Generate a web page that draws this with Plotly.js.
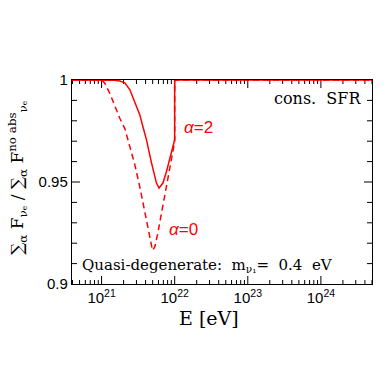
<!DOCTYPE html>
<html>
<head>
<meta charset="utf-8">
<script src="https://cdn.plot.ly/plotly-3.0.1.min.js"></script>
<style>html,body{margin:0;padding:0;background:#fff;}#chart{width:392px;height:392px;}</style>
</head>
<body>
<div id="chart"></div>
<script>
// Energy (eV) and flux ratio for alpha = 2 (solid)
const energyAlpha2 = [3.9e20, 1.04e21, 1.51e21, 1.78e21, 2.08e21, 2.43e21, 2.84e21, 3.33e21, 3.70e21, 4.11e21, 4.81e21, 5.62e21, 6.11e21, 6.92e21, 7.71e21, 8.55e21, 1.0e22, 1.0e22, 5.0e24];
const ratioAlpha2  = [1.0, 1.0, 0.9999, 0.9995, 0.9986, 0.9953, 0.9896, 0.9830, 0.9767, 0.9708, 0.9595, 0.9496, 0.9470, 0.9496, 0.9550, 0.9609, 0.9708, 1.0, 1.0];
// Energy (eV) and flux ratio for alpha = 0 (dashed)
const energyAlpha0 = [3.9e20, 9.5e20, 1.04e21, 1.11e21, 1.30e21, 1.52e21, 1.78e21, 2.08e21, 2.43e21, 2.85e21, 3.33e21, 3.90e21, 4.56e21, 4.97e21, 5.34e21, 5.86e21, 6.65e21, 7.71e21, 8.55e21, 1.0e22, 1.0e22, 5.0e24];
const ratioAlpha0  = [1.0, 1.0, 0.9995, 0.9983, 0.9934, 0.9875, 0.9811, 0.9762, 0.9678, 0.9585, 0.9477, 0.9354, 0.9226, 0.9165, 0.9182, 0.9246, 0.9354, 0.9486, 0.9575, 0.9698, 1.0, 1.0];

const xTickVals = [1e21, 1e22, 1e23, 1e24];
const xTickText = ['10<sup>21</sup>', '10<sup>22</sup>', '10<sup>23</sup>', '10<sup>24</sup>'];
const yTickVals = [0.9, 0.95, 1.0];
const yTickText = ['0.9', '0.95', '1'];
const yMinorVals = [0.91, 0.92, 0.93, 0.94, 0.96, 0.97, 0.98, 0.99];

const xMinor = [];
for (let d = 20; d <= 24; d++) for (let m = 2; m <= 9; m++) xMinor.push(m * Math.pow(10, d));

const xLo = 3.94e20, xHi = 5.0e24;
const xRange = [Math.log10(xLo), Math.log10(xHi)];
const yRange = [0.9, 1.0];

// Plot area is 300 x 204 px; convert tick lengths (px) into axis units
const plotW = 300, plotH = 204;
const decPerPx = (xRange[1] - xRange[0]) / plotW;
const yPerPx = (yRange[1] - yRange[0]) / plotH;

// inward tick marks on all four sides, drawn as one line trace through the axes' scales
const tickX = [], tickY = [];
function addXTick(v, lenPx) {
  if (v <= xLo || v >= xHi) return;
  const dy = lenPx * yPerPx;
  tickX.push(v, v, null, v, v, null);
  tickY.push(yRange[0], yRange[0] + dy, null, yRange[1], yRange[1] - dy, null);
}
function addYTick(v, lenPx) {
  if (v <= yRange[0] || v >= yRange[1]) return;
  const f = Math.pow(10, lenPx * decPerPx);
  tickX.push(xLo, xLo * f, null, xHi, xHi / f, null);
  tickY.push(v, v, null, v, v, null);
}
xTickVals.forEach(v => addXTick(v, 8));
xMinor.forEach(v => addXTick(v, 4));
yTickVals.forEach(v => addYTick(v, 8));
yMinorVals.forEach(v => addYTick(v, 5));

const traces = [
  {x: tickX, y: tickY, mode: 'lines', name: 'ticks', hoverinfo: 'skip', showlegend: false,
   connectgaps: false, line: {color: '#000', width: 1}},
  {x: energyAlpha0, y: ratioAlpha0, mode: 'lines', name: 'α=0',
   line: {color: '#ff0000', width: 1.5, dash: '6px,4px'}},
  {x: energyAlpha2, y: ratioAlpha2, mode: 'lines', name: 'α=2',
   line: {color: '#ff0000', width: 1.5}}
];

const tickFont = {family: 'Liberation Sans, Arial, sans-serif', size: 15, color: '#000'};
const serif = 'DejaVu Serif, serif';

const layout = {
  width: 392, height: 392,
  margin: {l: 72, r: 20, t: 80, b: 108},
  paper_bgcolor: '#fff', plot_bgcolor: '#fff',
  showlegend: false,
  xaxis: {
    type: 'log', range: xRange,
    tickmode: 'array', tickvals: xTickVals, ticktext: xTickText, ticks: '',
    showline: true, linecolor: '#000', linewidth: 1.2, mirror: true,
    showgrid: false, zeroline: false, tickfont: tickFont
  },
  yaxis: {
    range: yRange,
    tickmode: 'array', tickvals: yTickVals, ticktext: yTickText, ticks: '',
    showline: true, linecolor: '#000', linewidth: 1.2, mirror: true,
    showgrid: false, zeroline: false, tickfont: tickFont
  },
  annotations: [
    {xref: 'paper', yref: 'paper', x: 0.457, y: -0.165, xanchor: 'center', yanchor: 'middle', showarrow: false,
     text: 'E [eV]', font: {family: serif, size: 19, color: '#000'}},
    {xref: 'paper', yref: 'paper', x: -0.18, y: 0.52, xanchor: 'center', yanchor: 'middle', showarrow: false, textangle: -90,
     text: '∑<sub>α</sub> F<sub>νₑ</sub> / ∑<sub>α</sub> F<sup>no abs</sup><sub>νₑ</sub>', font: {family: serif, size: 17, color: '#000'}},
    {xref: 'paper', yref: 'paper', x: 0.97, y: 0.907, xanchor: 'right', yanchor: 'middle', showarrow: false,
     text: 'cons.  SFR', font: {family: serif, size: 16, color: '#000'}},
    {xref: 'paper', yref: 'paper', x: 0.027, y: 0.093, xanchor: 'left', yanchor: 'middle', showarrow: false,
     text: 'Quasi-degenerate:  m<sub>ν₁</sub>=  0.4  eV', font: {family: serif, size: 15, color: '#000'}},
    {xref: 'paper', yref: 'paper', x: 0.42, y: 0.765, xanchor: 'center', yanchor: 'middle', showarrow: false,
     text: '<i>α</i>=2', font: {family: 'Liberation Sans, Arial, sans-serif', size: 17, color: '#ff0000'}},
    {xref: 'paper', yref: 'paper', x: 0.37, y: 0.265, xanchor: 'center', yanchor: 'middle', showarrow: false,
     text: '<i>α</i>=0', font: {family: 'Liberation Sans, Arial, sans-serif', size: 17, color: '#ff0000'}}
  ]
};

Plotly.newPlot('chart', traces, layout, {displayModeBar: false, staticPlot: true});
</script>
</body>
</html>
